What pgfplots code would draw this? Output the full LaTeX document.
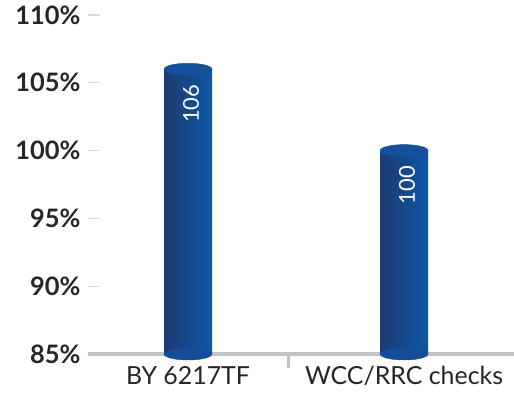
\documentclass[border=0pt]{standalone}
\usepackage{pgfplots}
\pgfplotsset{compat=1.18}
\usepackage{fontspec}
\setmainfont{Lato}
\definecolor{barL}{HTML}{1B3A70}
\definecolor{barM}{HTML}{154E96}
\definecolor{barR}{HTML}{0F58A5}
\definecolor{capC}{HTML}{16509A}
\definecolor{axgray}{HTML}{BFC3C7}
\definecolor{tickgray}{HTML}{DADADA}
\pgfplotsset{
    cylbar/.style={ybar, bar width=48bp, draw=none,
        left color=barL, middle color=barM, right color=barR,
        nodes near coords,
        every node near coord/.append style={rotate=90, anchor=east, text=white,
            font=\fontsize{22}{22}\selectfont, xshift=-12bp, yshift=-3bp}},
}
\begin{document}
\begin{tikzpicture}
\path[use as bounding box] (-88bp,-46bp) rectangle (426bp,354bp);
\begin{axis}[
    at={(0,0)}, anchor=south west,
    scale only axis, width=426bp, height=339bp,
    xmin=-0.463, xmax=1.509,
    ymin=85, ymax=110,
    ytick={85,90,...,110},
    yticklabel={\pgfmathprintnumber{\tick}\%},
    /pgf/number format/assume math mode=true,
    axis x line*=bottom, axis y line*=left,
    y axis line style={draw=none},
    x axis line style={draw=axgray, line width=3bp},
    tick align=inside,
    major tick length=12bp,
    ytick style={draw=tickgray, line width=1.2bp},
    xtick={0,1},
    xticklabels={BY 6217TF, WCC/RRC checks},
    xtick style={draw=none},
    yticklabel style={font=\fontsize{25.5}{25.5}\selectfont\bfseries, text=black!85, xshift=-4bp},
    xticklabel style={font=\fontsize{25}{25}\selectfont, text=black!85, yshift=-9bp},
    clip=true,
]
% bar bodies, one per plot so that each is shaded on its own
\addplot[cylbar] coordinates {(0,106)};
\addplot[cylbar] coordinates {(1,100)};
% bottom caps
\addplot[only marks, color=barM, mark=*, mark size=24bp,
    mark options={yscale=0.25, draw=none, fill=barM}]
    coordinates {(0,85) (1,85)};
% top caps
\addplot[only marks, color=capC, mark=*, mark size=24bp,
    mark options={yscale=0.25, draw=none, fill=capC}]
    coordinates {(0,106) (1,100)};
\coordinate (sep) at (axis cs:0.463,85);
\end{axis}
% separator between the two categories
\draw[axgray, line width=3bp] (sep) -- ++(0,-14bp);
\end{tikzpicture}
\end{document}
